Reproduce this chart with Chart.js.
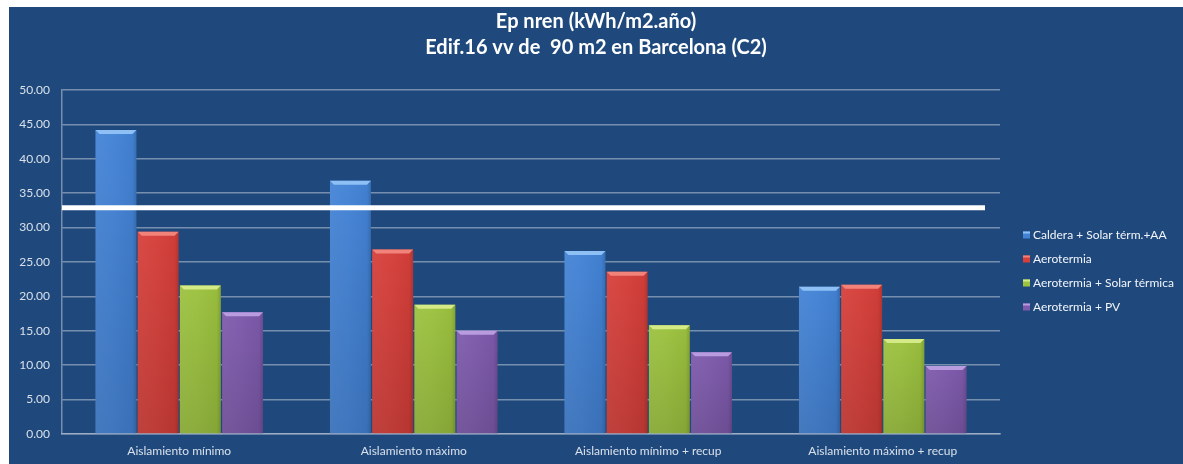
<!DOCTYPE html>
<html><head><meta charset="utf-8">
<script src="https://cdn.jsdelivr.net/npm/chart.js@4.4.1/dist/chart.umd.min.js"></script>
<style>
html,body{margin:0;padding:0;background:#fff;width:1183px;height:464px;overflow:hidden}
#panel{position:absolute;left:9px;top:7px;width:1174px;height:457px;background:#1F497D}
canvas{display:block}
</style></head><body>
<div id="panel"><canvas id="c" width="1174" height="457"></canvas></div>
<script>
// Categorías (variantes de envolvente) y series (sistemas)
const categorias = ['Aislamiento mínimo', 'Aislamiento máximo', 'Aislamiento mínimo + recup', 'Aislamiento máximo + recup'];
const nombresSeries = ['Caldera + Solar térm.+AA', 'Aerotermia', 'Aerotermia + Solar térmica', 'Aerotermia + PV'];
const calderaSolarAA = [44.2, 36.8, 26.6, 21.4];
const aerotermia = [29.4, 26.8, 23.6, 21.7];
const aerotermiaSolar = [21.6, 18.8, 15.8, 13.8];
const aerotermiaPV = [17.7, 15.0, 11.9, 9.9];
const marcasEje = [0, 5, 10, 15, 20, 25, 30, 35, 40, 45, 50];
const limite = 32.9;

const colores = [
  { base: '#4383D6', bisel: '#8FC0F5' },
  { base: '#D63F3A', bisel: '#F2837B' },
  { base: '#9CC23F', bisel: '#D3EA86' },
  { base: '#7E5AAC', bisel: '#B99BE0' }
];
const series = [calderaSolarAA, aerotermia, aerotermiaSolar, aerotermiaPV];

const gris = 'rgba(190,200,215,0.55)';
const textoEje = '#D8E0EA';
Chart.defaults.font.family = 'Lato, "Open Sans", sans-serif';

// Sombreado y bisel superior de cada barra
const bisel = {
  id: 'bisel',
  afterDatasetsDraw(chart) {
    const ctx = chart.ctx;
    ctx.save();
    chart.data.datasets.forEach((ds, i) => {
      chart.getDatasetMeta(i).data.forEach(bar => {
        const { x, y, base, width } = bar.getProps(['x', 'y', 'base', 'width'], true);
        const l = x - width / 2, r = x + width / 2, h = base - y;
        const gh = ctx.createLinearGradient(l, 0, r, 0);
        gh.addColorStop(0, 'rgba(255,255,255,0.06)');
        gh.addColorStop(0.4, 'rgba(255,255,255,0.03)');
        gh.addColorStop(0.9, 'rgba(0,0,0,0.03)');
        gh.addColorStop(1, 'rgba(0,0,0,0.16)');
        ctx.fillStyle = gh;
        ctx.fillRect(l, y, width, h);
        const gv = ctx.createLinearGradient(0, y, 0, base);
        gv.addColorStop(0, 'rgba(0,0,0,0)');
        gv.addColorStop(1, 'rgba(0,0,0,0.12)');
        ctx.fillStyle = gv;
        ctx.fillRect(l, y, width, h);
        const b = 4;
        ctx.beginPath();
        ctx.moveTo(l, y); ctx.lineTo(r, y); ctx.lineTo(r - b, y + b); ctx.lineTo(l + b, y + b);
        ctx.closePath();
        ctx.fillStyle = ds.bisel;
        ctx.fill();
      });
    });
    ctx.restore();
  }
};

// Línea horizontal de referencia
const lineaLimite = {
  id: 'lineaLimite',
  afterDatasetsDraw(chart) {
    const { ctx, chartArea } = chart;
    const yy = chart.scales.y.getPixelForValue(limite);
    ctx.save();
    ctx.strokeStyle = '#FFFFFF';
    ctx.lineWidth = 5;
    ctx.beginPath();
    ctx.moveTo(chartArea.left, yy);
    ctx.lineTo(chartArea.right - 15, yy);
    ctx.stroke();
    ctx.restore();
  }
};

// Leyenda a la derecha del área de trazado
const leyenda = {
  id: 'leyenda',
  afterDraw(chart) {
    const { ctx, chartArea } = chart;
    const xm = chartArea.right + 23;
    const y0 = (chartArea.top + chartArea.bottom) / 2 - 27;
    ctx.save();
    ctx.font = '12px Lato, "Open Sans", sans-serif';
    ctx.textBaseline = 'middle';
    chart.data.datasets.forEach((ds, i) => {
      const yy = y0 + i * 24;
      ctx.fillStyle = ds.backgroundColor;
      ctx.fillRect(xm, yy - 3.5, 7, 7);
      ctx.fillStyle = ds.bisel;
      ctx.fillRect(xm, yy - 3.5, 7, 2);
      ctx.fillStyle = '#F2F5F9';
      ctx.fillText(ds.label, xm + 10, yy);
    });
    ctx.restore();
  }
};

new Chart(document.getElementById('c'), {
  type: 'bar',
  data: {
    labels: categorias,
    datasets: series.map((vals, i) => ({
      label: nombresSeries[i],
      data: vals,
      backgroundColor: colores[i].base,
      bisel: colores[i].bisel,
      borderWidth: 0,
      categoryPercentage: 0.72,
      barPercentage: 0.97
    }))
  },
  options: {
    responsive: false,
    animation: false,
    layout: { padding: 0 },
    plugins: {
      legend: { display: false },
      tooltip: { enabled: false },
      title: {
        display: true,
        text: ['Ep nren (kWh/m2.año)', 'Edif.16 vv de  90 m2 en Barcelona (C2)'],
        color: '#FFFFFF',
        font: { size: 20, weight: 'bold', lineHeight: 1.3 },
        padding: { top: 2, bottom: 29 }
      }
    },
    scales: {
      x: {
        grid: { display: false, drawTicks: false },
        border: { display: true, color: gris, width: 1.5 },
        ticks: { color: textoEje, font: { size: 12 }, padding: 10, maxRotation: 0 },
        afterFit(s) { s.height = 30; }
      },
      y: {
        min: 0, max: 50,
        afterBuildTicks(s) { s.ticks = marcasEje.map(v => ({ value: v })); },
        grid: { color: gris, lineWidth: 1.5, drawTicks: false },
        border: { display: true, color: gris, width: 1.5 },
        ticks: { color: textoEje, font: { size: 12 }, padding: 12, callback: v => Number(v).toFixed(2) },
        afterFit(s) { s.width = 53; }
      },
      // columna reservada a la derecha para la leyenda
      margenLeyenda: {
        type: 'linear',
        position: 'right',
        display: true,
        grid: { display: false, drawTicks: false },
        border: { display: false },
        ticks: { display: false },
        afterFit(s) { s.width = 183; }
      }
    }
  },
  plugins: [bisel, lineaLimite, leyenda]
});
</script>
</body></html>
